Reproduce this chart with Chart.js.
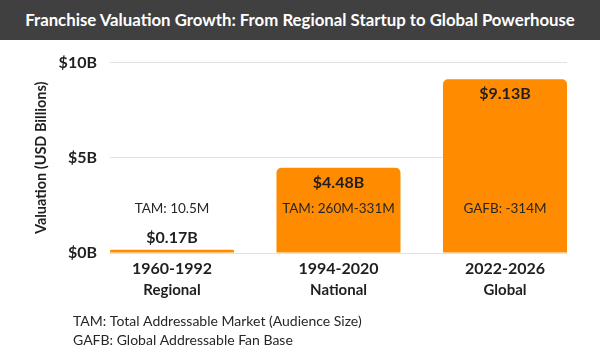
<!DOCTYPE html>
<html><head><meta charset="utf-8">
<script src="https://cdn.jsdelivr.net/npm/chart.js@4"></script>
<style>
html,body{margin:0;padding:0;background:#fff;}
#title{width:600px;height:40px;background:#404040;color:#fff;font:bold 16.8px Lato, sans-serif;text-align:center;line-height:40px;white-space:nowrap;}
#wrap{position:relative;width:600px;height:315px;}
</style></head><body>
<div id="title">Franchise Valuation Growth: From Regional Startup to Global Powerhouse</div>
<div id="wrap"><canvas id="c" width="600" height="315"></canvas></div>
<script>
const periods = ["1960-1992", "1994-2020", "2022-2026"];
const stages = ["Regional", "National", "Global"];
const valuations = [0.17, 4.48, 9.13];
const valueLabels = ["$0.17B", "$4.48B", "$9.13B"];
const audienceLabels = ["TAM: 10.5M", "TAM: 260M-331M", "GAFB: -314M"];
const yTicks = [0, 5, 10];
const footnotes = ["TAM: Total Addressable Market (Audience Size)", "GAFB: Global Addressable Fan Base"];

const FONT = "Lato, 'Noto Sans', sans-serif";
const TEXT = "#1f1f1f";
const barFrac = 0.745;

const labelPlugin = {
  id: 'labels',
  afterDraw(chart) {
    const ctx = chart.ctx;
    const meta = chart.getDatasetMeta(0);
    const ys = chart.scales.y;
    const xs = chart.scales.x;
    ctx.save();
    ctx.textAlign = 'center';
    ctx.textBaseline = 'middle';
    meta.data.forEach((bar, i) => {
      const h = bar.base - bar.y;
      ctx.fillStyle = TEXT;
      ctx.font = "bold 16px " + FONT;
      const ly = h > 40 ? bar.y + 15 : bar.y - 12;
      ctx.fillText(valueLabels[i], bar.x, ly);
      ctx.font = "13.5px " + FONT;
      ctx.fillStyle = "#262626";
      ctx.fillText(audienceLabels[i], bar.x, ys.getPixelForValue(2.35));
      ctx.font = "bold 15px " + FONT;
      ctx.fillStyle = TEXT;
      ctx.fillText(stages[i], xs.getPixelForValue(i), ys.bottom + 37);
    });
    ctx.textAlign = 'left';
    ctx.font = "14px " + FONT;
    ctx.fillStyle = "#262626";
    footnotes.forEach((t, k) => {
      ctx.fillText(t, 73, ys.bottom + 68 + k * 19);
    });
    ctx.restore();
  }
};

new Chart(document.getElementById('c'), {
  type: 'bar',
  data: {
    datasets: [{
      data: valuations.map((v, i) => ({x: i, y: v})),
      backgroundColor: '#FF8C00',
      borderRadius: 5,
      borderSkipped: 'bottom',
      categoryPercentage: 1,
      barPercentage: barFrac
    }]
  },
  options: {
    responsive: false,
    animation: false,
    layout: {padding: {left: 0, right: 33, top: 21, bottom: 0}},
    plugins: {legend: {display: false}, tooltip: {enabled: false}},
    scales: {
      x: {
        type: 'linear',
        offset: false,
        min: -barFrac / 2,
        max: periods.length - 1 + barFrac / 2,
        afterBuildTicks: s => { s.ticks = periods.map((p, i) => ({value: i})); },
        afterFit: s => { s.height = 102; },
        grid: {display: false, drawTicks: false, offset: false},
        border: {display: false},
        ticks: {
          padding: 6,
          autoSkip: false,
          maxRotation: 0,
          color: TEXT,
          font: {family: FONT, size: 16, weight: 'bold'},
          callback: v => periods[v]
        }
      },
      y: {
        min: 0,
        max: 10,
        afterBuildTicks: s => { s.ticks = yTicks.map(v => ({value: v})); },
        afterFit: s => { s.width = 110; },
        grid: {color: '#e2e2e2', drawTicks: false},
        border: {display: false},
        ticks: {
          padding: 13,
          color: TEXT,
          font: {family: FONT, size: 16, weight: 'bold'},
          callback: v => '$' + v + 'B'
        },
        title: {
          display: true,
          text: 'Valuation (USD Billions)',
          color: TEXT,
          font: {family: FONT, size: 14.5, weight: 'bold'},
          padding: {top: 33, bottom: 0}
        }
      }
    }
  },
  plugins: [labelPlugin]
});
</script>
</body></html>
